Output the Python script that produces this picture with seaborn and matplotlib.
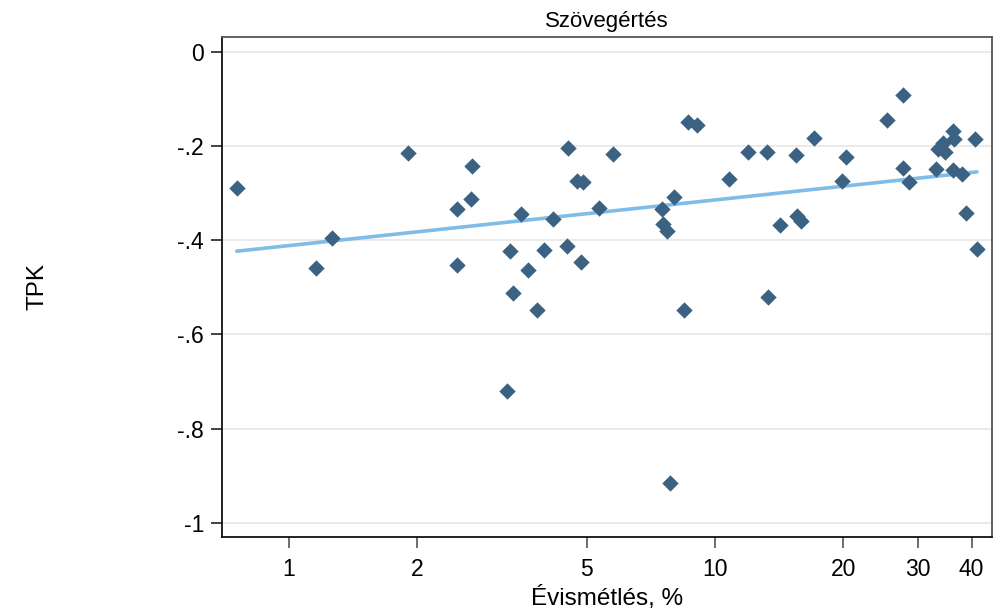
import numpy as np
import pandas as pd
import matplotlib
matplotlib.use("Agg")
import matplotlib.pyplot as plt
import seaborn as sns
from matplotlib.ticker import FixedLocator, FixedFormatter, NullLocator

# Évismétlés (%) és TPK értékek
evismetles = [0.754, 1.157, 1.262, 1.902, 2.476, 2.480, 2.670, 2.689, 3.24, 3.30,
              3.35, 3.50, 3.64, 3.82, 3.97, 4.16, 4.49, 4.52, 4.74, 4.84,
              4.90, 5.34, 5.75, 7.50, 7.54, 7.70, 7.86, 8.01, 8.46, 8.64,
              9.07, 10.79, 11.92, 13.25, 13.32, 14.21, 15.49, 15.55, 15.89, 17.08,
              19.87, 20.27, 25.30, 27.58, 27.58, 28.54, 32.97, 33.39, 34.30, 34.67,
              36.14, 36.14, 36.39, 38.0, 38.83, 40.7, 41.2]
tpk = [-0.289, -0.459, -0.395, -0.214, -0.334, -0.453, -0.313, -0.242, -0.721, -0.422,
       -0.512, -0.344, -0.463, -0.548, -0.421, -0.355, -0.412, -0.204, -0.274, -0.446,
       -0.276, -0.331, -0.217, -0.334, -0.366, -0.380, -0.916, -0.308, -0.548, -0.149,
       -0.156, -0.270, -0.212, -0.213, -0.520, -0.368, -0.219, -0.349, -0.359, -0.182,
       -0.274, -0.223, -0.145, -0.092, -0.247, -0.276, -0.249, -0.206, -0.194, -0.212,
       -0.168, -0.251, -0.185, -0.259, -0.342, -0.186, -0.419]

# illesztett egyenes (az ábráról leolvasva): tpk = a + b * log10(évismétlés)
fit_a = -0.4114
fit_b = 0.0969

x_ticks = [1, 2, 5, 10, 20, 30, 40]
y_ticks = [0, -0.2, -0.4, -0.6, -0.8, -1]
y_tick_labels = ["0", "-.2", "-.4", "-.6", "-.8", "-1"]

df = pd.DataFrame({"evismetles": evismetles, "tpk": tpk})
x_fit = np.array([df["evismetles"].min(), df["evismetles"].max()])
df_fit = pd.DataFrame({"evismetles": x_fit, "tpk": fit_a + fit_b * np.log10(x_fit)})

sns.set_style("white")
plt.rcParams["font.family"] = ["Liberation Sans", "DejaVu Sans"]
plt.rcParams["text.color"] = "black"
plt.rcParams["axes.labelcolor"] = "black"
plt.rcParams["xtick.color"] = "black"
plt.rcParams["ytick.color"] = "black"

fig = plt.figure(figsize=(10.03, 6.10), dpi=100)
ax = fig.add_axes([0.2213, 0.1197, 0.9887 - 0.2213, 0.9398 - 0.1197])

# horizontális rácsvonalak
for yv in y_ticks:
    ax.axhline(yv, color="#e4e4e4", lw=1.1, zorder=0)

sns.lineplot(data=df_fit, x="evismetles", y="tpk", color="#7fbde8", lw=2.6,
             zorder=2, ax=ax)
sns.scatterplot(data=df, x="evismetles", y="tpk", marker="D", s=64,
                color="#3b6282", edgecolor="#3b6282", linewidth=0.3, zorder=3, ax=ax)

ax.set_xscale("log")
ax.set_xlim(0.696, 44.6)
ax.set_ylim(-1.030, 0.032)

ax.xaxis.set_major_locator(FixedLocator(x_ticks))
ax.xaxis.set_major_formatter(FixedFormatter([str(t) for t in x_ticks]))
ax.xaxis.set_minor_locator(NullLocator())
ax.yaxis.set_major_locator(FixedLocator(y_ticks))
ax.yaxis.set_major_formatter(FixedFormatter(y_tick_labels))

ax.tick_params(axis="x", bottom=True, length=8, width=1.2, color="#555555",
               labelcolor="black", labelsize=16.5, pad=7)
ax.tick_params(axis="y", left=True, length=8, width=1.2, color="#222222",
               labelcolor="black", labelsize=16.5, pad=5)

for side in ["left", "bottom"]:
    ax.spines[side].set_color("#111111")
    ax.spines[side].set_linewidth(1.3)
for side in ["top", "right"]:
    ax.spines[side].set_color("#555555")
    ax.spines[side].set_linewidth(1.3)

ax.set_xlabel("Évismétlés, %", fontsize=17.5, labelpad=4)
ax.set_ylabel("TPK", fontsize=17.5)
ax.yaxis.set_label_coords(-0.225, 0.5)
ax.set_title("Szövegértés", fontsize=16, pad=7, color="black")

fig.savefig("out.png", dpi=100)
